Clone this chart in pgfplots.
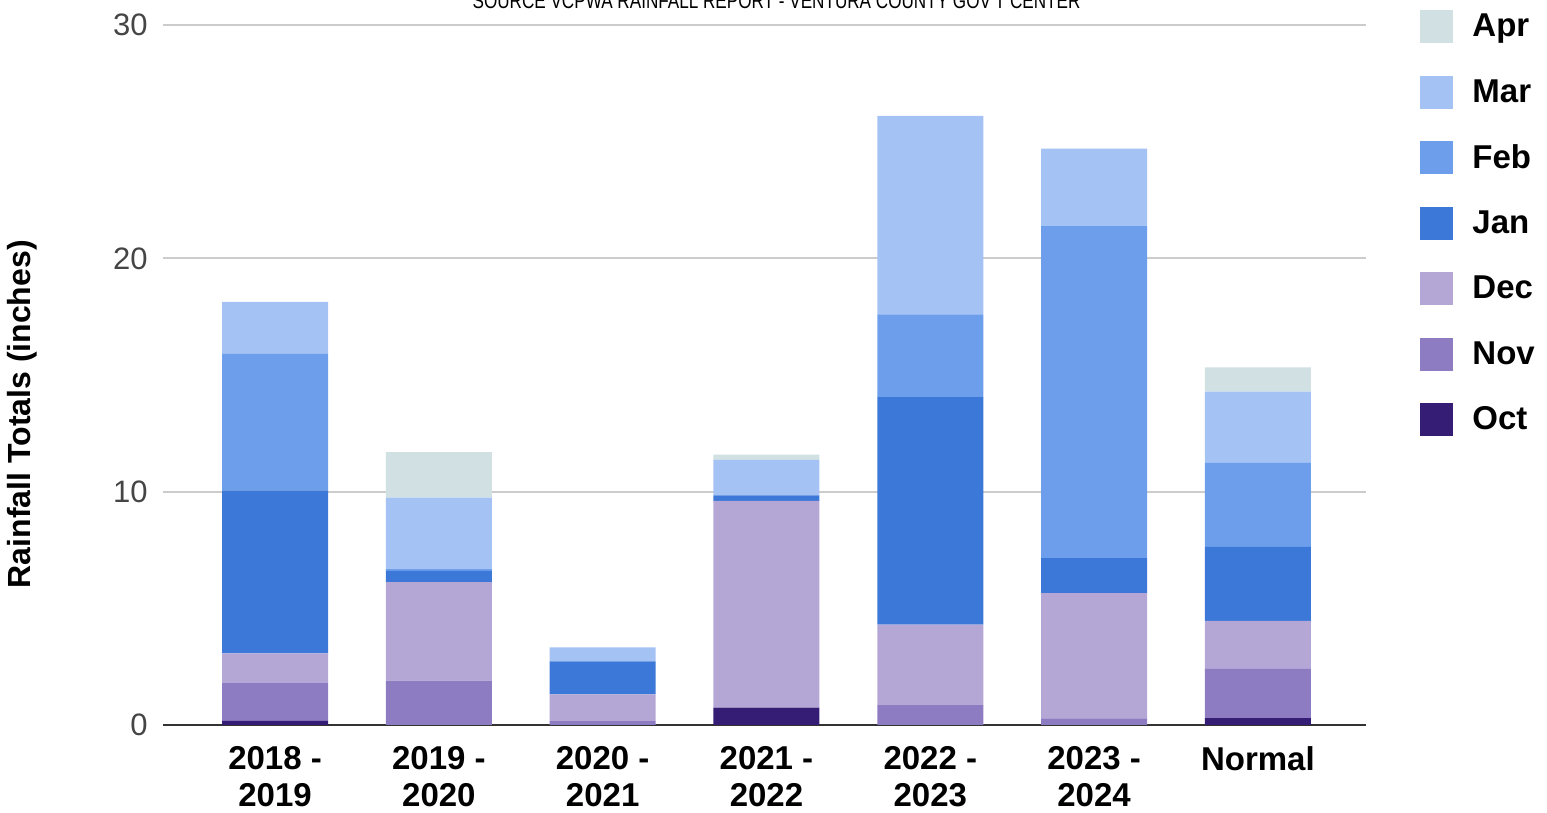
\documentclass[border=0pt]{standalone}
\usepackage{fontspec}
\setmainfont{Liberation Sans}
\usepackage{pgfplots}
\pgfplotsset{compat=1.18}
\usepackage{pgfplotstable}

\definecolor{cOct}{HTML}{351C75}
\definecolor{cNov}{HTML}{8E7CC3}
\definecolor{cDec}{HTML}{B4A7D6}
\definecolor{cJan}{HTML}{3C78D8}
\definecolor{cFeb}{HTML}{6D9EEB}
\definecolor{cMar}{HTML}{A4C2F4}
\definecolor{cApr}{HTML}{D0E0E3}

% rainfall (inches) per month and season
\pgfplotstableread{
x Oct  Nov  Dec  Jan  Feb   Mar  Apr
0 0.18 1.61 1.28 6.99 5.84  2.23 0
1 0    1.90 4.22 0.48 0.10  3.04 1.95
2 0    0.17 1.14 1.42 0     0.60 0
3 0.74 0    8.86 0.24 0     1.52 0.23
4 0    0.85 3.45 9.75 3.55  8.50 0
5 0    0.28 5.37 1.50 14.25 3.30 0
6 0.29 2.11 2.06 3.17 3.60  3.06 1.04
}\rain

\begin{document}
\begin{tikzpicture}
\begin{axis}[
  at={(81.5bp,44bp)}, anchor=south west,
  scale only axis, width=601.5bp, height=350bp,
  ybar stacked, bar width=53bp,
  xmin=-0.684, xmax=6.66, ymin=0, ymax=30,
  xtick={0,...,6},
  xticklabels={{2018 -\\2019},{2019 -\\2020},{2020 -\\2021},{2021 -\\2022},{2022 -\\2023},{2023 -\\2024},{Normal}},
  xticklabel style={align=center, anchor=north, inner sep=0pt, yshift=-10.5bp,
    font=\bfseries\fontsize{16.5bp}{18.5bp}\selectfont},
  ytick={0,10,20,30},
  yticklabel style={anchor=east, inner sep=0pt, xshift=-7.5bp, text=black!73,
    font=\fontsize{15.5bp}{18bp}\selectfont},
  /pgf/number format/assume math mode=true,
  ymajorgrids, major grid style={draw=black!20, line width=1bp},
  extra y ticks={0}, extra y tick labels={},
  extra y tick style={grid=major, major grid style={draw=black!80, line width=1.3bp}},
  axis line style={draw=none},
  tick style={draw=none},
  ylabel={Rainfall Totals (inches)},
  ylabel style={at={(axis description cs:-0.1172,0.444)}, anchor=center,
    font=\bfseries\fontsize{16bp}{18bp}\selectfont},
  reverse legend,
  legend cell align=left,
  legend image code/.code={\fill[#1, draw=none] (0bp,-8.25bp) rectangle (16.5bp,8.25bp);},
  legend style={at={(axis description cs:1.04489,1.02143)}, anchor=north west,
    draw=none, fill=none, inner sep=0pt, row sep=16.25bp, column sep=9.5bp,
    nodes={inner sep=0pt}, font=\bfseries\fontsize{16.5bp}{18bp}\selectfont},
]
\addplot[fill=cOct, draw=none] table[x=x, y=Oct]{\rain}; \addlegendentry{Oct}
\addplot[fill=cNov, draw=none] table[x=x, y=Nov]{\rain}; \addlegendentry{Nov}
\addplot[fill=cDec, draw=none] table[x=x, y=Dec]{\rain}; \addlegendentry{Dec}
\addplot[fill=cJan, draw=none] table[x=x, y=Jan]{\rain}; \addlegendentry{Jan}
\addplot[fill=cFeb, draw=none] table[x=x, y=Feb]{\rain}; \addlegendentry{Feb}
\addplot[fill=cMar, draw=none] table[x=x, y=Mar]{\rain}; \addlegendentry{Mar}
\addplot[fill=cApr, draw=none] table[x=x, y=Apr]{\rain}; \addlegendentry{Apr}
\end{axis}
\pgfresetboundingbox
\useasboundingbox (0,0) rectangle (773.5bp,406.5bp);
\node[anchor=base, inner sep=0pt] at (388.25bp,402bp)
  {\scalebox{0.856}[1.1]{\fontsize{10bp}{12bp}\selectfont SOURCE VCPWA RAINFALL REPORT - VENTURA COUNTY GOV'T CENTER}};
\end{tikzpicture}
\end{document}
